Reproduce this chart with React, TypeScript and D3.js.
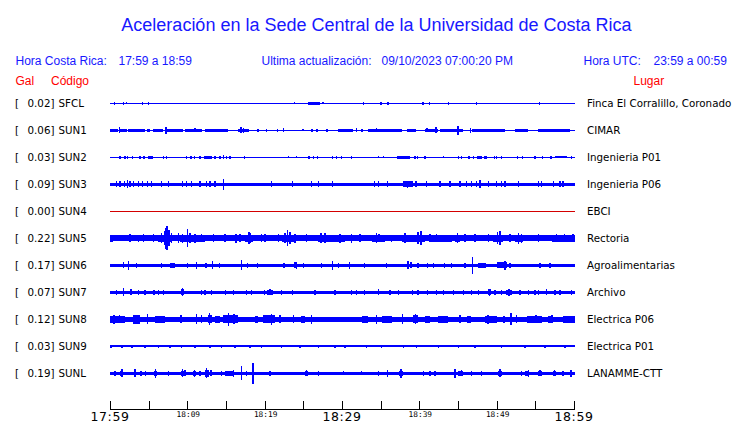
import React from "react";
import * as d3 from "d3";

// ---------- data ----------
const codes = ["SFCL", "SUN1", "SUN2", "SUN3", "SUN4", "SUN5", "SUN6", "SUN7", "SUN8", "SUN9", "SUNL"];
const peakGal = [0.02, 0.06, 0.03, 0.09, 0.0, 0.22, 0.17, 0.07, 0.12, 0.03, 0.19];
const places = [
  "Finca El Corralillo, Coronado",
  "CIMAR",
  "Ingenieria P01",
  "Ingenieria P06",
  "EBCI",
  "Rectoria",
  "Agroalimentarias",
  "Archivo",
  "Electrica P06",
  "Electrica P01",
  "LANAMME-CTT",
];
// background noise half-amplitude (relative units)
const noiseLevel = [0.5, 0.5, 0.5, 1.6, 0.5, 3, 1.7, 1.5, 2.6, 1.1, 1.6];
const inactive = [false, false, false, false, true, false, false, false, false, false, false];

// bursts: [startMinute, endMinute, halfAmplitude]
const burstsSFCL = [[25.5, 27.1, 1.5]];
const burstsSUN1 = [
  [0, 1.08, 1.4], [1.29, 2.15, 1.4], [2.37, 4.52, 1.4], [4.73, 5.16, 1.4], [5.59, 6.88, 1.4],
  [7.31, 9.46, 1.4], [9.68, 11.83, 1.4], [12.26, 15.27, 1.4], [16.56, 17.63, 1.8], [29.46, 31.4, 1.4],
  [33.33, 37.63, 1.4], [38.28, 39.44, 1.4], [40.65, 42.37, 1.8], [42.58, 45.59, 1.4], [46.67, 50.97, 1.4],
  [52.26, 53.89, 1.4], [55.27, 59.35, 1.4],
];
const burstsSUN2 = [[4.86, 5.59, 1.3], [12.17, 13.12, 1.3], [36.99, 38.71, 1.3], [47.4, 47.96, 1.3], [57.42, 58.92, 1.1]];
const burstsSUN3 = [[37.85, 39.14, 3]];
const burstsSUN4: number[][] = [];
const burstsSUN5 = [
  [0, 0.43, 3.6], [6.24, 7.96, 3.8], [9.03, 12.26, 3.6], [17.42, 18.49, 3.6], [22.15, 23.87, 3.8],
  [26.88, 30.32, 3.6], [33.76, 35.48, 3.6], [37.63, 40.65, 3.8], [41.29, 44.09, 3.6], [44.52, 45.16, 3.6],
  [49.46, 50.75, 3.8], [52.26, 53.33, 3.6], [56.99, 60, 3.6],
];
const burstsSUN6 = [[7.74, 8.39, 2.6], [23.78, 24.09, 3], [47.53, 48.39, 2.6], [49.89, 51.18, 3]];
const burstsSUN7 = [[9.2, 9.5, 3], [20.2, 21, 2.6], [48.8, 49.1, 3], [51.1, 51.9, 2.6]];
const burstsSUN8 = [
  [0, 1.94, 3.4], [3.01, 3.87, 4.2], [5.81, 7.1, 3.4], [12.6, 13.1, 4], [13.55, 14.19, 3.4],
  [14.62, 16.56, 4], [18.7, 19.1, 3.4], [19.78, 21.29, 4], [24.6, 25.2, 3.4], [32.47, 33.33, 3.4],
  [35.05, 36.34, 3.6], [39.14, 39.78, 4], [40.7, 41.3, 3.4], [42.37, 43.66, 3.6], [46, 46.6, 3.4],
  [48.39, 49.89, 3.8], [50.7, 51, 3.4], [53.76, 55.7, 3.6], [56.56, 57.2, 3.4], [58.49, 60, 3.4],
];
const burstsSUN9: number[][] = [];
const burstsSUNL = [
  [1.3, 1.7, 2.8], [5.7, 6.1, 2.8], [9.1, 9.6, 2.6], [10.7, 11.1, 2.6], [12.2, 12.8, 3.2],
  [14.9, 16.0, 2.4], [25.1, 25.6, 2.4], [37.3, 37.8, 2.8], [44.9, 45.6, 2.4], [50, 50.6, 2.8],
  [53.6, 54.1, 2.4], [55.2, 55.7, 2.4], [57.1, 57.5, 2.4],
];

// spikes: [minute, halfAmplitude]
const spikesSFCL = [
  [0.56, 1.7], [1.72, 1.7], [2.15, 1], [4.17, 1.7], [4.95, 1.7], [23.8, 1], [27.5, 1], [32.7, 1.7],
  [35.0, 1.7], [35.9, 1.7], [40.4, 1.7], [41.2, 1.7], [43.7, 1.7], [47.3, 1.7], [55.4, 1.2],
];
const spikesSUN1 = [
  [1.2, 3], [7.2, 3.5], [11, 2], [16.9, 3], [17.2, 2.5], [17.8, 1.5], [19.1, 1.5], [20.2, 1.5], [21.6, 1.5],
  [22.4, 2], [24.9, 1], [26.1, 1.2], [26.7, 1.2], [28, 1.2], [31.8, 2], [32.5, 1.5], [34.4, 2], [40.9, 2],
  [42.1, 3], [44.9, 4.5], [46.5, 2.5], [48.4, 1.2], [49.5, 1.2],
];
const spikesSUN2 = [
  [1.29, 1.3], [1.94, 1.3], [2.28, 1.3], [2.88, 1.3], [3.87, 1.3], [4.39, 1.3], [6.88, 1.3], [7.31, 1.3],
  [9.89, 1.3], [10.45, 1.3], [10.88, 1.3], [11.61, 1.3], [13.55, 1.3], [14.19, 1.3], [14.62, 2], [15.05, 1.3],
  [15.48, 1.3], [17.33, 1.3], [23.01, 1], [24.09, 1], [25.68, 1.3], [26.24, 1.3], [26.75, 1.3], [28.73, 1.3],
  [29.25, 1.3], [29.89, 1.3], [31.18, 1.3], [34.62, 1], [35.27, 1], [39.35, 1.3], [39.7, 1.3], [40.65, 1.3],
  [43.01, 1], [44.95, 1.3], [45.38, 1.3], [46.32, 1.3], [46.88, 1.3], [48.39, 1.3], [48.6, 1.3], [49.59, 1.3],
  [49.89, 1.3], [50.54, 1.3], [52.6, 1.3], [53.25, 1.3], [54.84, 1.3], [55.83, 1.3], [56.9, 1.3], [59.57, 1.3],
];
const spikesSUN3 = [
  [0.86, 3], [1.29, 3], [1.85, 3], [2.24, 4], [2.58, 3], [3.01, 3], [3.66, 3], [4.17, 3], [4.86, 3],
  [5.38, 3], [6.67, 3], [7.53, 3], [9.33, 3], [9.89, 3], [10.54, 3], [11.61, 3], [12.47, 3], [12.9, 3],
  [13.55, 3], [14.62, 5.5], [20.86, 3], [23.57, 3], [26.02, 3], [26.88, 3], [28.73, 3], [34.11, 3],
  [34.62, 3], [35.83, 3], [38.4, 3.5], [39.48, 3], [40.86, 3], [42.58, 3], [43.87, 3], [45.16, 3],
  [46.02, 3], [46.67, 3], [47.31, 3], [47.74, 4], [48.82, 3], [49.89, 3], [50.54, 3], [50.97, 3],
  [52.69, 3], [55.27, 3], [55.7, 3], [57.2, 3], [58.06, 3], [58.49, 3],
];
const spikesSUN4: number[][] = [];
const spikesSUN5 = [
  [0.22, 3.5], [2.58, 4], [3.66, 3.5], [4.3, 4], [5.59, 4], [6.67, 5], [7.01, 7], [7.23, 10.5], [7.35, 12],
  [7.61, 8], [7.96, 5], [8.82, 5], [9.33, 4.5], [9.98, 9], [10.32, 5], [10.97, 4.5], [11.83, 4], [13.33, 4],
  [14.84, 4], [16.26, 4.5], [16.77, 4], [17.94, 6], [18.15, 5], [19.57, 4], [20.0, 4], [21.72, 4],
  [22.58, 5], [22.92, 8], [23.23, 6], [23.87, 4.5], [25.38, 4], [27.23, 5], [27.74, 5], [29.68, 4.5],
  [31.18, 4.5], [32.26, 4], [34.41, 5], [34.71, 4], [36.34, 3.5], [38.06, 5], [39.78, 6], [40.13, 7],
  [41.29, 4], [42.15, 4], [44.82, 5], [45.81, 4], [47.1, 4], [48.82, 4], [50.02, 6], [50.32, 7],
  [51.61, 4], [52.69, 5.5], [53.12, 4.5], [55.27, 4], [57.63, 4], [58.62, 4], [59.78, 4],
];
const spikesSUN6 = [
  [1.72, 3], [2.37, 4.5], [3.44, 2.5], [6.67, 2.5], [10.02, 2.5], [11.18, 3.5], [12.39, 2.5], [13.2, 4],
  [14.11, 2.5], [16.95, 5], [17.72, 2.5], [19.05, 2.5], [22.45, 2.5], [24.09, 3.5], [24.95, 2.5],
  [27.31, 2.5], [28.69, 4.5], [29.46, 2.5], [30.88, 3.5], [32.82, 2.5], [35.7, 2.5], [38.49, 4],
  [38.84, 3], [39.78, 2.5], [40.99, 2.5], [41.72, 2.5], [43.14, 2.5], [44.09, 2.5], [45.81, 2.5],
  [46.75, 8.8], [48.39, 2.5], [50.97, 4.5], [51.61, 2.5], [55.48, 2.5], [56.77, 2.5],
];
const spikesSUN7 = [
  [0.86, 2.5], [1.72, 4], [2.71, 3], [3.66, 2.5], [4.52, 2.5], [5.68, 2.5], [6.24, 2.5], [6.88, 2.5],
  [9.33, 4], [11.83, 2.5], [12.26, 2.5], [13.12, 2.5], [14.92, 2.5], [15.91, 2.5], [17.63, 2.5],
  [18.28, 2.5], [19.91, 2.5], [20.65, 3], [22.15, 2.5], [23.53, 2.5], [26.45, 2.5], [29.03, 2.5],
  [31.18, 2.5], [31.83, 2.5], [32.82, 2.5], [34.62, 3], [36.13, 2.5], [37.2, 2.5], [39.01, 2.5],
  [39.78, 2.5], [40.99, 2.5], [42.15, 2.5], [43.01, 2.5], [44.3, 2.5], [45.59, 2.5], [46.67, 2.5],
  [47.53, 2.5], [48.95, 3.5], [49.68, 2.5], [50.54, 2.5], [51.48, 3.5], [52.9, 2.5], [53.98, 2.5],
  [54.84, 2.5], [55.27, 2.5], [56.34, 3], [57.42, 2.5], [58.06, 2.5], [59.57, 2.5],
];
const spikesSUN8 = [
  [0.5, 4.5], [1.2, 4], [3.3, 4.5], [4.86, 5], [9.16, 4], [11.18, 5], [11.83, 4], [12.86, 6], [15.27, 6.5],
  [16, 5], [20.86, 5.5], [21.94, 4], [23.66, 4], [26.02, 4.5], [34.41, 4.5], [37.72, 5], [39.4, 5],
  [45.16, 4], [48.8, 4.5], [51.74, 6], [52.47, 4], [55, 4], [57, 4],
];
const spikesSUN9 = [
  [0.13, 1.7], [1.51, 1.7], [2.8, 1.7], [4.52, 1.7], [6.24, 1.7], [7.74, 1.7], [9.25, 1.7], [10.97, 1.7],
  [12.9, 1.7], [14.41, 1.7], [16.13, 1.7], [18.06, 1.7], [19.57, 1.7], [22.15, 1.7], [24.52, 1.7],
  [26.88, 1.7], [29.03, 1.7], [30.32, 1.7], [33.12, 1.7], [35.05, 1.7], [37.85, 1.7], [39.57, 1.7],
  [42.37, 1.7], [44.95, 1.7], [47.1, 1.7], [50.54, 1.7], [53.55, 1.7], [56.13, 1.7], [58.71, 1.7],
];
const spikesSUNL = [
  [0.65, 2.5], [1.51, 4], [3.23, 4], [4, 2.5], [4.6, 2.5], [5.89, 4.5], [7.53, 2.5], [9.33, 4], [9.68, 3],
  [10.88, 3.5], [11.61, 2.5], [12.47, 5], [13.03, 3], [14.41, 2.5], [15.48, 2.5], [15.91, 3.5], [16.95, 7],
  [17.63, 2.5], [18.49, 10.5], [20.65, 2.5], [25.38, 3], [26.88, 2.5], [30.11, 2], [32.47, 2], [34.62, 2.5],
  [35.83, 3.5], [37.55, 4.5], [40.43, 2.5], [41.29, 2.5], [41.94, 2.5], [44.52, 4.5], [45.38, 3],
  [46.67, 2.5], [47.96, 2.5], [50.32, 4], [53.12, 2.5], [53.98, 3.5], [55.48, 3], [57.33, 3], [58.49, 2.5],
  [59.48, 3.5],
];

const burstsAll = [burstsSFCL, burstsSUN1, burstsSUN2, burstsSUN3, burstsSUN4, burstsSUN5, burstsSUN6, burstsSUN7, burstsSUN8, burstsSUN9, burstsSUNL];
const spikesAll = [spikesSFCL, spikesSUN1, spikesSUN2, spikesSUN3, spikesSUN4, spikesSUN5, spikesSUN6, spikesSUN7, spikesSUN8, spikesSUN9, spikesSUNL];

// time axis (minutes after 17:59)
const tickMinutes = [0, 5, 10, 15, 20, 25, 30, 35, 40, 45, 50, 55, 60];
const tickLabelMinutes = [0, 10, 20, 30, 40, 50, 60];
const tickLabels = ["17:59", "18:09", "18:19", "18:29", "18:39", "18:49", "18:59"];
const tickLabelBig = [true, false, false, true, false, false, true];

const title = "Aceleración en la Sede Central de la Universidad de Costa Rica";
const headerCR = ["Hora Costa Rica:", "17:59 a 18:59"];
const headerUpd = ["Ultima actualización:", "09/10/2023 07:00:20 PM"];
const headerUTC = ["Hora UTC:", "23:59 a 00:59"];

// ---------- chart ----------
const W = 740;
const H = 423;
const BLUE = "#0000ff";
const HEAD_BLUE = "#1818ff";
const RED = "#ff0000";

export default function App() {
  const x = d3.scaleLinear().domain([0, 60]).range([110, 575]);
  const row = d3.scaleBand<number>().domain(d3.range(codes.length)).range([90, 387]).padding(0);
  const rowCenter = (i: number) => (row(i) as number) + row.bandwidth() / 2 - 0.2;
  const axisX = d3.scaleLinear().domain([0, 60]).range([110, 574]);
  const sans = "'Liberation Sans', Arial, Helvetica, sans-serif";
  const dv = "'DejaVu Sans', sans-serif";

  return (
    <svg
      width={W}
      height={H}
      style={{ position: "fixed", left: 0, top: 0, background: "#fff" }}
      fontFamily={sans}
    >
      <rect x={0} y={0} width={W} height={H} fill="#fff" />
      <text x={376.5} y={30.5} textAnchor="middle" fontSize={18} fill={HEAD_BLUE}>
        {title}
      </text>
      <g fontSize={12} fill={HEAD_BLUE}>
        <text x={15.5} y={65}>{headerCR[0]}</text>
        <text x={118.5} y={65}>{headerCR[1]}</text>
        <text x={261.5} y={65}>{headerUpd[0]}</text>
        <text x={381.5} y={65}>{headerUpd[1]}</text>
        <text x={583.5} y={65}>{headerUTC[0]}</text>
        <text x={653.5} y={65}>{headerUTC[1]}</text>
      </g>
      <g fontSize={12} fill={RED}>
        <text x={15.5} y={85}>Gal</text>
        <text x={51} y={85}>Código</text>
        <text x={633.5} y={85}>Lugar</text>
      </g>

      {codes.map((code, i) => {
        const cy = rowCenter(i);
        const y = d3.scaleLinear().domain([-13.5, 13.5]).range([cy + 13.5, cy - 13.5]);
        const color = inactive[i] ? "#d40000" : BLUE;
        const nl = noiseLevel[i];
        return (
          <g key={code}>
            <g fontFamily={dv} fontSize={10.3} fill="#000">
              <text x={15} y={cy + 3.8}>[</text>
              <text x={54.5} y={cy + 3.8} textAnchor="end">{peakGal[i].toFixed(2) + "]"}</text>
              <text x={58.5} y={cy + 3.8}>{code}</text>
              <text x={587} y={cy + 3.8}>{places[i]}</text>
            </g>
            <g fill={color} shapeRendering="crispEdges">
              <rect x={x(0)} width={x(60) - x(0)} y={y(nl)} height={y(-nl) - y(nl)} />
              {burstsAll[i].map((b, k) => (
                <rect key={"b" + k} x={x(b[0])} width={Math.max(1, x(b[1]) - x(b[0]))} y={y(b[2])} height={y(-b[2]) - y(b[2])} />
              ))}
              {spikesAll[i].map((s, k) => (
                <rect key={"s" + k} x={x(s[0]) - 0.8} width={1.6} y={y(s[1])} height={y(-s[1]) - y(s[1])} />
              ))}
            </g>
          </g>
        );
      })}

      <g stroke="#000" strokeWidth={1} shapeRendering="crispEdges">
        <line x1={axisX(0)} x2={axisX(60)} y1={409.5} y2={409.5} />
        {tickMinutes.map((m) => (
          <line key={m} x1={Math.round(axisX(m)) + 0.5} x2={Math.round(axisX(m)) + 0.5} y1={401} y2={409.5} />
        ))}
      </g>
      {tickLabelMinutes.map((m, k) =>
        tickLabelBig[k] ? (
          <text key={m} x={axisX(m)} y={420.5} textAnchor="middle" fontFamily={dv} fontSize={12.5} letterSpacing={0.6} fill="#000">
            {tickLabels[k]}
          </text>
        ) : (
          <text key={m} x={axisX(m) + 1} y={417} textAnchor="middle" fontFamily="'DejaVu Sans Mono', monospace" fontSize={7.8} fill="#000">
            {tickLabels[k]}
          </text>
        )
      )}
    </svg>
  );
}
